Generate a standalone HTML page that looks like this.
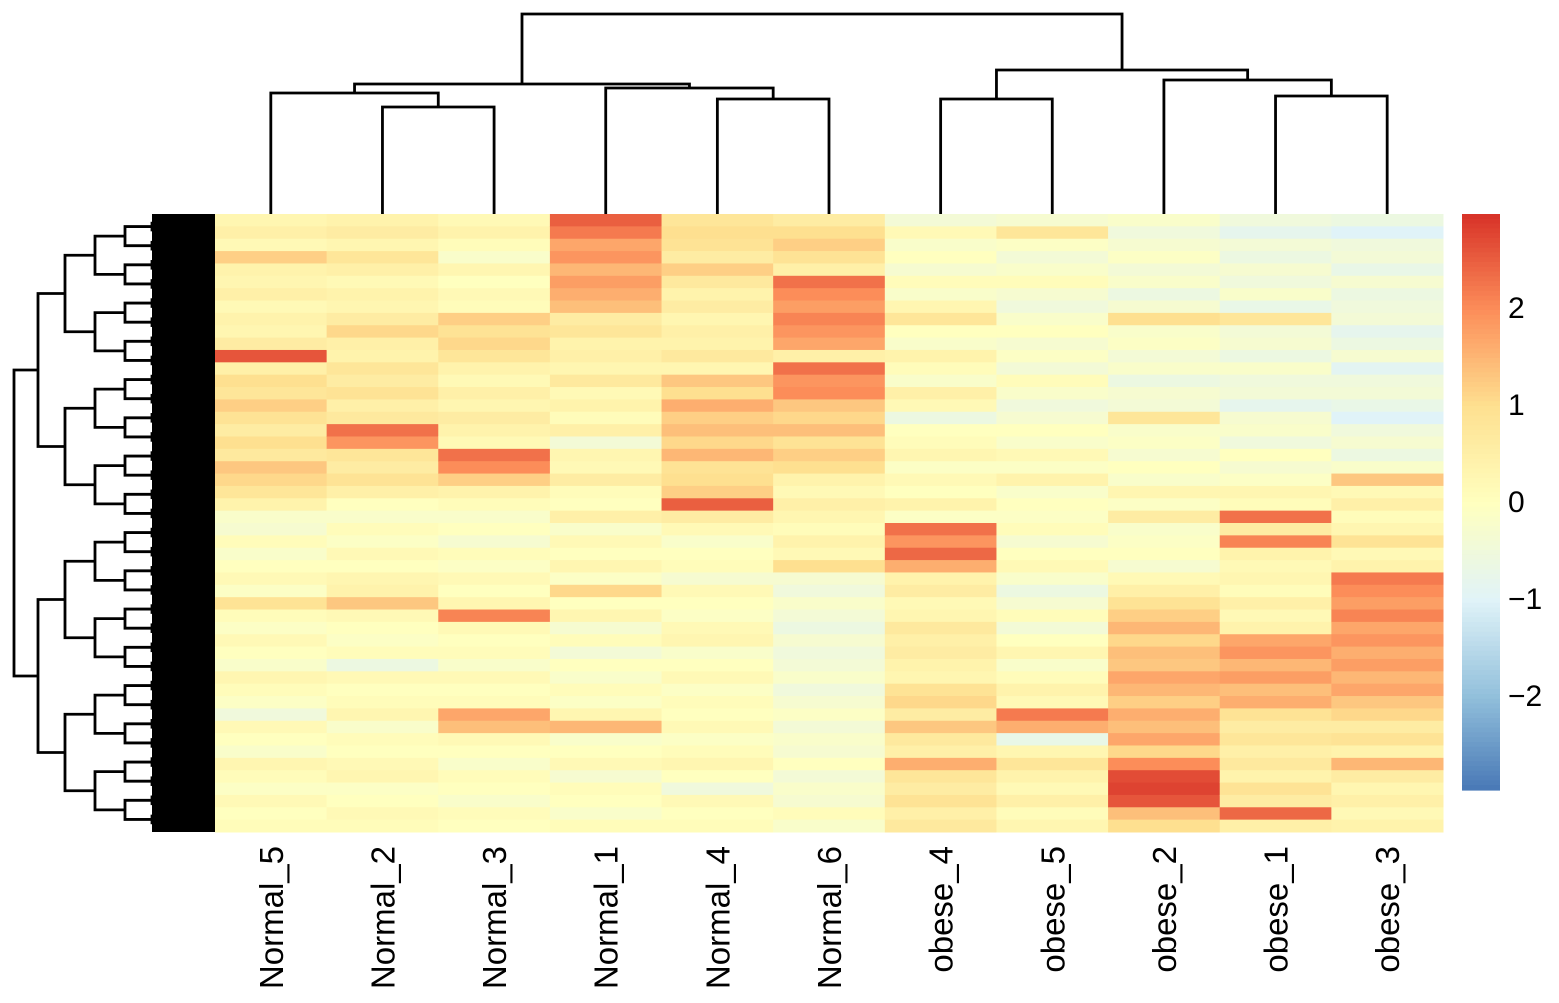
<!DOCTYPE html>
<html><head><meta charset="utf-8"><style>
html,body{margin:0;padding:0;background:#fff;}
svg{display:block;font-family:"Liberation Sans",Arial,sans-serif;}
</style></head><body>
<svg id="chart" width="1559" height="1003" viewBox="0 0 1559 1003" xmlns="http://www.w3.org/2000/svg">
<g id="coldendro" stroke="#000" stroke-width="2.8" fill="none"></g>
<g id="rowdendro"></g>
<g id="cells"></g>
<g id="labels"></g>
<g id="legend"></g>
</svg>
<script>
const samples = ["Normal_5","Normal_2","Normal_3","Normal_1","Normal_4","Normal_6","obese_4","obese_5","obese_2","obese_1","obese_3"];
const legendTicks = [2,1,0,-1,-2];
const N5 = [0.3,0.5,0.2,1.2,0.4,0.3,0.5,0.2,0.4,0.3,0.6,2.6,0.5,1.0,0.8,1.2,0.9,0.6,1.0,0.7,1.3,1.1,0.8,0.4,-0.2,-0.3,0.1,-0.2,0.0,0.2,-0.1,0.9,0.1,-0.1,0.2,0.0,-0.2,0.3,0.1,-0.1,-0.5,0.2,0.0,-0.2,0.3,0.1,-0.1,0.2,0.0,0.1];
const N2 = [0.4,0.6,0.3,0.8,0.5,0.2,0.4,0.3,0.6,1.1,0.5,0.4,0.8,0.6,0.9,0.5,0.7,2.3,1.9,0.8,0.6,0.9,0.5,0.0,-0.2,0.1,-0.1,0.2,0.0,0.3,0.4,1.3,0.2,0.0,-0.1,0.1,-0.6,0.2,0.0,0.1,0.3,-0.2,0.1,0.0,0.2,0.3,-0.1,0.0,0.2,0.1];
const N3 = [0.2,0.4,0.1,-0.2,0.3,0.0,0.2,0.1,1.2,0.9,1.1,0.8,0.4,0.2,0.5,0.3,0.6,0.4,0.2,2.3,2.0,1.2,0.4,0.1,-0.2,0.0,-0.3,0.1,-0.1,0.2,0.0,0.3,2.1,0.2,0.0,0.1,-0.2,0.2,0.0,0.1,1.7,1.4,0.2,0.0,-0.2,0.1,0.0,-0.2,0.1,0.0];
const N1 = [2.5,2.2,1.7,1.9,1.5,1.8,1.6,1.4,0.6,0.8,0.4,0.5,0.3,0.7,0.2,0.4,0.1,0.5,-0.4,0.3,0.2,0.6,0.1,0.0,0.5,-0.2,0.2,0.0,0.3,-0.1,1.1,0.0,0.3,-0.3,0.1,-0.4,0.0,-0.2,0.1,-0.1,0.3,1.5,-0.2,0.0,0.2,-0.3,0.1,0.0,-0.2,0.1];
const N4 = [0.8,1.0,0.9,0.6,1.2,0.7,0.4,0.6,0.3,0.5,0.4,0.7,0.3,1.3,1.0,1.6,1.2,1.4,1.1,1.5,0.9,1.0,1.2,2.5,0.6,0.2,-0.2,0.0,0.1,-0.3,0.2,0.0,-0.1,0.2,0.3,-0.2,0.0,0.2,-0.1,0.1,0.0,0.2,-0.1,0.1,0.3,0.0,-0.5,0.2,0.0,0.1];
const N6 = [0.6,1.0,1.2,0.9,0.5,2.3,2.0,1.8,2.1,1.9,1.7,0.5,2.3,1.9,2.0,1.3,1.1,1.4,0.9,1.2,1.0,0.4,0.2,0.5,0.3,0.1,0.4,0.2,1.0,-0.3,-0.5,-0.2,-0.4,-0.6,-0.3,-0.5,-0.4,-0.2,-0.5,-0.3,-0.1,-0.4,-0.2,-0.3,0.0,-0.4,-0.2,-0.3,0.1,-0.2];
const O4 = [-0.4,0.2,-0.2,0.0,-0.3,0.1,-0.2,0.3,0.8,0.0,-0.2,0.4,0.1,-0.2,0.5,0.2,-0.6,0.0,0.1,0.3,-0.1,0.2,0.0,0.4,-0.1,2.3,1.9,2.4,1.6,0.4,0.6,0.2,0.3,0.7,0.5,0.6,0.4,0.3,0.9,1.1,0.6,1.3,0.7,0.5,1.6,0.8,0.6,0.9,0.5,0.7];
const O5 = [-0.3,0.8,-0.1,-0.4,-0.2,0.1,-0.3,-0.5,-0.2,0.0,-0.3,-0.1,-0.4,0.1,-0.2,-0.5,-0.3,0.0,-0.2,0.2,-0.1,0.4,-0.2,0.0,-0.1,0.1,-0.3,0.0,0.2,-0.2,-0.6,-0.3,0.1,-0.4,0.0,0.3,-0.2,0.1,0.4,0.2,2.2,1.6,-0.7,0.3,0.8,0.4,0.2,0.5,0.1,0.3];
const O2 = [-0.2,-0.5,-0.3,-0.1,-0.4,-0.2,-0.6,-0.3,1.0,-0.2,-0.1,-0.4,-0.2,-0.6,-0.3,-0.4,0.8,-0.2,-0.1,-0.3,0.0,-0.2,0.3,-0.1,0.6,-0.2,-0.1,0.0,-0.3,0.2,0.5,0.9,1.2,1.5,1.1,1.4,1.3,1.7,1.5,1.2,1.6,1.4,1.7,1.1,2.0,2.7,2.8,2.6,1.4,1.0];
const O1 = [-0.5,-0.8,-0.4,-0.6,-0.3,-0.5,-0.2,-0.7,0.8,-0.4,-0.3,-0.6,-0.2,-0.5,-0.4,-0.8,-0.3,-0.2,-0.5,0.0,-0.3,-0.1,0.3,0.1,2.3,0.6,2.1,0.4,0.2,0.3,0.1,0.5,0.2,0.4,1.7,1.9,1.5,1.8,1.4,1.6,0.9,0.6,0.8,0.5,0.7,0.4,0.9,0.6,2.4,0.5];
const O3 = [-0.6,-1.0,-0.5,-0.4,-0.7,-0.3,-0.6,-0.5,-0.4,-0.8,-0.6,-0.3,-0.9,-0.5,-0.4,-0.7,-1.0,-0.5,-0.3,-0.6,-0.2,1.3,0.2,0.5,0.1,0.3,0.9,0.2,0.4,2.2,2.0,1.8,2.1,1.7,1.9,1.6,1.8,1.5,1.7,1.3,1.1,0.6,0.9,0.4,1.5,0.6,0.3,0.5,0.2,0.4];
const columns = [N5,N2,N3,N1,N4,N6,O4,O5,O2,O1,O3];

const NS="http://www.w3.org/2000/svg";
const X0=215,X1=1443,Y0=214,Y1=832;
const nCols=samples.length, nRows=N5.length;
const colW=(X1-X0)/nCols, rowH=(Y1-Y0)/nRows;
const xCol=i=>X0+i*colW, yRow=r=>Y0+r*rowH;
const stops=[[-3,[69,117,180]],[-2,[145,191,219]],[-1,[224,243,248]],[0,[255,255,191]],[1,[254,224,144]],[2,[252,141,89]],[3,[215,48,39]]];
function color(v){v=Math.max(-3,Math.min(3,v));for(let k=0;k<stops.length-1;k++){const a=stops[k],b=stops[k+1];if(v<=b[0]){const t=(v-a[0])/(b[0]-a[0]);const c=a[1].map((x,j)=>Math.round(x+(b[1][j]-x)*t));return `rgb(${c})`;}}return "rgb(215,48,39)";}
function mk(tag,attrs,parent){const e=document.createElementNS(NS,tag);for(const k in attrs)e.setAttribute(k,attrs[k]);parent.appendChild(e);return e;}

const cells=document.getElementById('cells');
columns.forEach((col,i)=>{col.forEach((v,r)=>{
  const e=mk('rect',{x:xCol(i),y:yRow(r),width:colW+0.5,height:rowH+0.5,fill:color(v)},cells);
  
  
});});

const labels=document.getElementById('labels');
samples.forEach((s,i)=>{
  const cx=xCol(i)+colW/2+12;
  const t=mk('text',{x:0,y:0,transform:`translate(${cx},846) rotate(-90)`,'text-anchor':'end','font-size':33,fill:'#000'},labels);
  t.textContent=s;
  
  
});

const cd=document.getElementById('coldendro');
const leafX=i=>xCol(i)+colW/2;
const merges=[[1,2,107],[0,'a',93],[4,5,99],[3,'c',88],['b','d',84],[6,7,99],[9,10,96],[8,'g',80],['f','h',70],['e','i',14]];
const nodes={};const names='abcdefghij';
merges.forEach((m,k)=>{
  const get=n=>typeof n==='number'?{x:leafX(n),y:Y0}:nodes[n];
  const L=get(m[0]),R=get(m[1]);
  const p=mk('path',{d:`M${L.x},${L.y}V${m[2]}H${R.x}V${R.y}`},cd);
  
  
  nodes[names[k]]={x:(L.x+R.x)/2,y:m[2]};
});

const rd=document.getElementById('rowdendro');
const blk=mk('rect',{x:152,y:Y0,width:63,height:Y1-Y0,fill:'#000'},rd);


const levX=[152,125,95,65,38,14];
function tree(lo,hi,lev){
  if(lev<0)return {y:(lo+hi)/2,x:152};
  const mid=(lo+hi)/2;const a=tree(lo,mid,lev-1),b=tree(mid,hi,lev-1);
  const x=levX[lev];
  const p=mk('path',{d:`M${a.x},${a.y}H${x}V${b.y}H${b.x}`,stroke:'#000','stroke-width':2.8,fill:'none'},rd);
  
  
  return {x:x,y:(a.y+b.y)/2};
}
tree(Y0+3,Y1-3,5);

const lg=document.getElementById('legend');
const LY0=214,LY1=790,vmax=2.96,vmin=-2.98;
const ly=v=>LY0+(vmax-v)/(vmax-vmin)*(LY1-LY0);
for(let k=0;k<120;k++){const v=vmax-(vmax-vmin)*k/120;
  const r=mk('rect',{x:1462,y:ly(v),width:38,height:(LY1-LY0)/120+0.6,fill:color(v)},lg);
  
  }
legendTicks.forEach(t=>{
  const tx=mk('text',{x:1508,y:ly(t)+11,'font-size':30,fill:'#000'},lg);
  tx.textContent=t<0?'\u2212'+Math.abs(t):String(t);
  
  
});
</script>
</body></html>
